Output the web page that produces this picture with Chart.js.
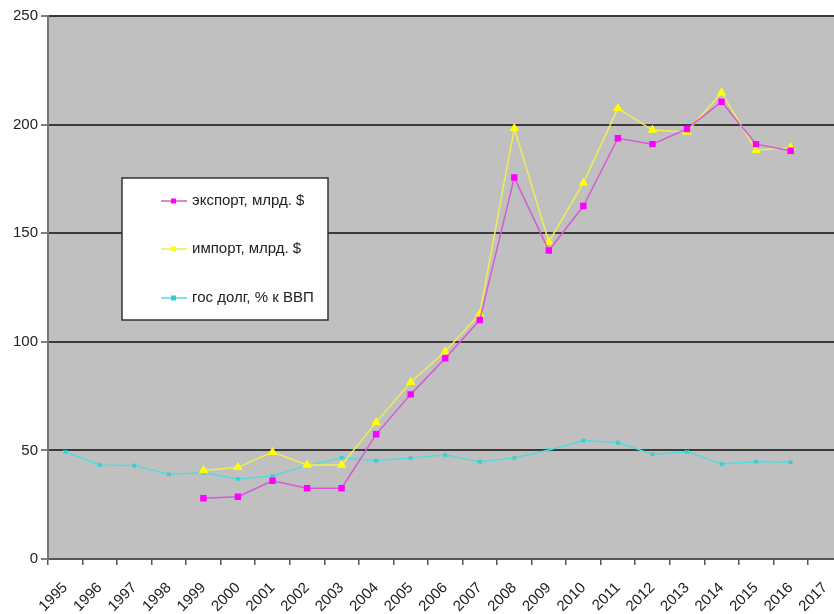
<!DOCTYPE html>
<html>
<head>
<meta charset="utf-8">
<script src="https://cdn.jsdelivr.net/npm/chart.js@4/dist/chart.umd.min.js"></script>
<style>
  html, body { margin: 0; padding: 0; background: #fff; overflow: hidden; }
  #wrap { width: 852px; height: 610px; margin-top: 4px; }
</style>
</head>
<body>
<div id="wrap"><canvas id="chart" width="852" height="610"></canvas></div>
<script>
// years on the category axis
const years = ['1995','1996','1997','1998','1999','2000','2001','2002','2003','2004','2005','2006',
               '2007','2008','2009','2010','2011','2012','2013','2014','2015','2016','2017'];

// экспорт, млрд. $
const exportVals = [null, null, null, null, 28, 28.7, 36, 32.6, 32.6, 57.4, 75.8, 92.4,
                    110, 175.6, 142, 162.5, 193.7, 191, 198, 210.5, 191, 188, null];
// импорт, млрд. $
const importVals = [null, null, null, null, 40.8, 42.2, 49.2, 43.3, 43.3, 62.9, 81.4, 95.5,
                    112.8, 198.3, 146, 173.2, 207.5, 197.5, 196.6, 214.7, 188.2, 189.4, null];
// гос долг, % к ВВП
const debtVals = [49.4, 43.3, 43, 39, 39.7, 36.8, 38.2, 43, 46.6, 45.3, 46.5, 47.9,
                  44.8, 46.5, 50.2, 54.5, 53.6, 48.2, 49.4, 43.7, 44.8, 44.5, null];

const yTicks = [0, 50, 100, 150, 200, 250];

// grey plot background
const plotBg = {
  id: 'plotBg',
  beforeDraw(chart) {
    const { ctx, chartArea: a } = chart;
    ctx.save();
    ctx.fillStyle = '#c0c0c0';
    ctx.fillRect(a.left, a.top, a.right - a.left, a.bottom - a.top);
    ctx.restore();
  }
};

// boxed legend sitting inside the plot, like the excel one
const boxLegend = {
  id: 'boxLegend',
  afterDraw(chart) {
    const ctx = chart.ctx;
    const x = 122, y = 174, w = 206, h = 142;
    ctx.save();
    ctx.fillStyle = '#ffffff';
    ctx.fillRect(x, y, w, h);
    ctx.strokeStyle = '#333';
    ctx.lineWidth = 1.5;
    ctx.strokeRect(x, y, w, h);
    ctx.font = '15px "Liberation Sans", Arial, sans-serif';
    ctx.textBaseline = 'middle';
    const rows = [197, 245, 294];
    chart.data.datasets.forEach((ds, i) => {
      const yy = rows[i];
      ctx.strokeStyle = ds.borderColor;
      ctx.lineWidth = 1.5;
      ctx.beginPath();
      ctx.moveTo(161, yy);
      ctx.lineTo(187, yy);
      ctx.stroke();
      ctx.fillStyle = ds.pointBackgroundColor;
      ctx.fillRect(171, yy - 2.5, 5, 5);
      ctx.fillStyle = '#222';
      ctx.fillText(ds.label, 192, yy);
    });
    ctx.restore();
  }
};

new Chart(document.getElementById('chart'), {
  type: 'line',
  data: {
    labels: years,
    datasets: [
      {
        label: 'экспорт, млрд. $',
        data: exportVals,
        borderColor: '#d65ad6',
        pointBackgroundColor: '#ff00ff',
        pointBorderColor: '#ff00ff',
        pointStyle: 'rect',
        pointRadius: 3.5,
        borderWidth: 1.5,
        tension: 0,
      },
      {
        label: 'импорт, млрд. $',
        data: importVals,
        borderColor: '#eeee55',
        pointBackgroundColor: '#ffff00',
        pointBorderColor: '#ffff00',
        pointStyle: 'triangle',
        pointRadius: 4,
        borderWidth: 1.5,
        tension: 0,
      },
      {
        label: 'гос долг, % к ВВП',
        data: debtVals,
        borderColor: '#55dada',
        pointBackgroundColor: '#33cccc',
        pointBorderColor: '#33cccc',
        pointStyle: 'crossRot',
        pointRadius: 2.5,
        pointBorderWidth: 1.5,
        borderWidth: 1.5,
        tension: 0,
      },
    ]
  },
  options: {
    responsive: false,
    animation: false,
    layout: { padding: { top: 12, right: 0, left: 0, bottom: 0 } },
    plugins: {
      legend: { display: false },
      tooltip: { enabled: false },
    },
    scales: {
      x: {
        offset: true,
        grid: { offset: true, drawOnChartArea: false, drawTicks: true, tickLength: 6, color: '#555', lineWidth: 1.5 },
        border: { color: '#555', width: 2 },
        ticks: {
          color: '#222',
          font: { family: '"Liberation Sans", Arial, sans-serif', size: 15 },
          minRotation: 45,
          maxRotation: 45,
          autoSkip: false,
          padding: 14,
        },
        afterFit(scale) { scale.height = 55; },
      },
      y: {
        min: 0,
        max: 250,
        afterBuildTicks(scale) { scale.ticks = yTicks.map(v => ({ value: v })); },
        grid: { color: '#3a3a3a', lineWidth: 2, tickLength: 7, tickColor: '#555', tickWidth: 1.5 },
        border: { color: '#777', width: 2 },
        ticks: {
          color: '#222',
          font: { family: '"Liberation Sans", Arial, sans-serif', size: 15 },
          padding: 3,
        },
        afterFit(scale) { scale.width = 48; },
      }
    }
  },
  plugins: [plotBg, boxLegend]
});
</script>
</body>
</html>
